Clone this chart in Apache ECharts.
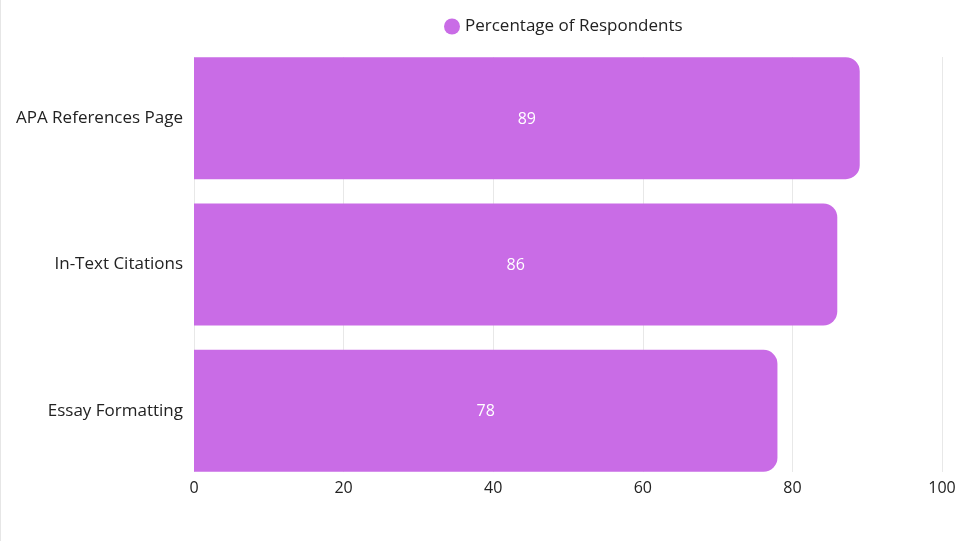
<!DOCTYPE html>
<html>
<head>
<meta charset="utf-8">
<script src="https://cdn.jsdelivr.net/npm/echarts@6/dist/echarts.min.js"></script>
<style>
  html, body { margin: 0; padding: 0; background: #fff; }
  #main { width: 973px; height: 541px; }
</style>
</head>
<body>
<div id="main"></div>
<script>
  var categories = ['APA References Page', 'In-Text Citations', 'Essay Formatting'];
  var respondents = [89, 86, 78];
  var seriesName = 'Percentage of Respondents';

  var chart = echarts.init(document.getElementById('main'));
  var font = 'Open Sans';

  chart.setOption({
    animation: false,
    legend: {
      top: 13,
      left: 439,
      icon: 'circle',
      itemWidth: 16,
      itemHeight: 16,
      itemGap: 6,
      textStyle: { fontFamily: font, fontSize: 17, color: '#222' },
      data: [seriesName]
    },
    grid: [
      // bars (category bands a bit taller than the visible plot)
      { left: 194, right: 31, top: 45, bottom: 57 },
      // visible x axis + gridlines
      { left: 194, right: 31, top: 57, bottom: 69 }
    ],
    xAxis: [
      { gridIndex: 0, type: 'value', min: 0, max: 100, show: false },
      {
        gridIndex: 1, type: 'value', min: 0, max: 100, interval: 20,
        axisLine: { show: false },
        axisTick: { show: false },
        axisLabel: { fontFamily: font, fontSize: 16, color: '#222', margin: 8 },
        splitLine: { lineStyle: { color: '#e8e8e8', width: 1 } }
      }
    ],
    yAxis: [
      {
        gridIndex: 0, type: 'category', data: categories, inverse: true,
        axisLine: { show: false },
        axisTick: { show: false },
        axisLabel: { fontFamily: font, fontSize: 17, color: '#222', margin: 11 }
      },
      { gridIndex: 1, type: 'category', data: categories, show: false }
    ],
    series: [{
      name: seriesName,
      type: 'bar',
      xAxisIndex: 0,
      yAxisIndex: 0,
      data: respondents,
      barWidth: 122,
      itemStyle: { color: '#c96ce6', borderRadius: [0, 14, 14, 0] },
      label: {
        show: true,
        position: 'inside',
        color: '#fff',
        fontFamily: font,
        fontSize: 16,
        offset: [0, 1]
      }
    }],
    graphic: [{
      type: 'rect',
      shape: { x: 0, y: 0, width: 1, height: 541 },
      style: { fill: '#e6e6e6' }
    }]
  });
</script>
</body>
</html>
